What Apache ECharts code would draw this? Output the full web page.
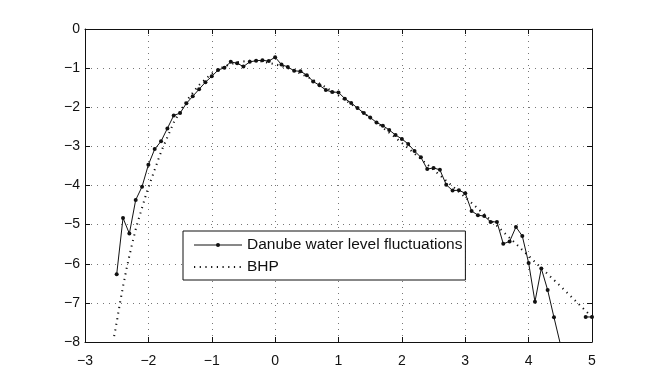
<!DOCTYPE html>
<html>
<head>
<meta charset="utf-8">
<script src="https://cdn.jsdelivr.net/npm/echarts@6/dist/echarts.min.js"></script>
<style>
  html, body { margin: 0; padding: 0; background: #fff; }
  #chart { width: 654px; height: 386px; }
</style>
</head>
<body>
<div id="chart"></div>
<script>
// Danube water level fluctuations (x step 0.1 from -2.5 to 5.0, null = not drawn)
var danubeX = [];
for (var i = 0; i <= 75; i++) danubeX.push(Math.round((-2.5 + i * 0.1) * 10) / 10);
var danubeY = [
  -6.27, -4.83, -5.23, -4.37, -4.03, -3.47, -3.07, -2.87, -2.54, -2.21,
  -2.15, -1.90, -1.72, -1.54, -1.36, -1.21, -1.05, -0.99, -0.84, -0.875,
  -0.96, -0.84, -0.81, -0.80, -0.82, -0.72, -0.91, -0.97, -1.07, -1.08,
  -1.18, -1.34, -1.44, -1.56, -1.61, -1.62, -1.78, -1.89, -2.02, -2.15,
  -2.26, -2.39, -2.47, -2.58, -2.71, -2.81, -2.94, -3.12, -3.28, -3.58,
  -3.55, -3.60, -3.98, -4.13, -4.12, -4.20, -4.65, -4.76, -4.78, -4.93,
  -4.93, -5.49, -5.43, -5.06, -5.29, -5.98, -6.97, -6.12, -6.67, -7.37,
  -8.05, null, null, null, -7.36, -7.36
];

// BHP curve
var bhpX = [-2.54, -2.5, -2.45, -2.4, -2.35, -2.3, -2.25, -2.2, -2.15, -2.1, -2.05, -2.0,
  -1.8, -1.6, -1.4, -1.2, -1.0, -0.8, -0.6, -0.4, -0.2, 0.0, 0.2, 0.4, 0.6, 0.8,
  1.0, 1.2, 1.4, 1.6, 1.8, 2.0, 2.5, 3.0, 3.5, 4.0, 4.5, 5.0];
var bhpY = [-7.85, -7.5, -7.02, -6.58, -6.17, -5.8, -5.45, -5.12, -4.84, -4.57, -4.3, -4.05,
  -3.14, -2.39, -1.84, -1.43, -1.14, -0.95, -0.85, -0.81, -0.83, -0.90, -1.0, -1.14, -1.30, -1.49,
  -1.70, -1.92, -2.15, -2.39, -2.65, -2.91, -3.6, -4.3, -5.03, -5.8, -6.57, -7.36];

var xTicks = { min: -3, max: 5, interval: 1 };
var yTicks = { min: -8, max: 0, interval: 1 };

function pairs(xs, ys) {
  return xs.map(function (x, i) { return [x, ys[i]]; });
}
function minus(v) {
  return String(v).replace('-', '\u2212');
}

var chart = echarts.init(document.getElementById('chart'), null, { renderer: 'canvas' });

var font = 'Liberation Sans, Arial, Helvetica, sans-serif';
var frame = { show: true, onZero: false, lineStyle: { color: '#111', width: 1 } };
var tickIn = { show: true, inside: true, length: 5, lineStyle: { color: '#111' } };

var option = {
  animation: false,
  backgroundColor: '#fff',
  grid: { left: 85, right: 62, top: 29, bottom: 44 },
  legend: {
    orient: 'vertical',
    left: 183,
    top: 231,
    padding: [6, 3, 5, 10],
    itemGap: 6,
    itemWidth: 48,
    itemHeight: 5,
    backgroundColor: '#fff',
    borderColor: '#111',
    borderWidth: 1,
    borderRadius: 0,
    lineStyle: { width: 1 },
    textStyle: { fontFamily: font, fontSize: 15.5, color: '#111' },
    data: [
      { name: 'Danube water level fluctuations' },
      { name: 'BHP', itemStyle: { color: 'rgba(0,0,0,0)', borderWidth: 0 }, lineStyle: { width: 2 } }
    ]
  },
  xAxis: [{
    type: 'value',
    min: xTicks.min, max: xTicks.max, interval: xTicks.interval,
    axisLine: frame,
    axisTick: tickIn,
    axisLabel: { color: '#111', fontFamily: font, fontSize: 14, margin: 12, formatter: minus },
    splitLine: { show: true, lineStyle: { color: '#777', type: [1, 5], width: 1 } }
  }, {
    type: 'value', position: 'top',
    min: xTicks.min, max: xTicks.max, interval: xTicks.interval,
    axisLine: frame,
    axisTick: tickIn,
    axisLabel: { show: false },
    splitLine: { show: false }
  }],
  yAxis: [{
    type: 'value',
    min: yTicks.min, max: yTicks.max, interval: yTicks.interval,
    axisLine: frame,
    axisTick: tickIn,
    axisLabel: { color: '#111', fontFamily: font, fontSize: 14, margin: 5, formatter: minus },
    splitLine: { show: true, lineStyle: { color: '#777', type: [1, 5], width: 1 } }
  }, {
    type: 'value', position: 'right',
    min: yTicks.min, max: yTicks.max, interval: yTicks.interval,
    axisLine: frame,
    axisTick: tickIn,
    axisLabel: { show: false },
    splitLine: { show: false }
  }],
  series: [{
    name: 'BHP',
    type: 'line',
    data: pairs(bhpX, bhpY),
    showSymbol: false,
    symbol: 'none',
    clip: true,
    z: 2,
    lineStyle: { color: '#111', width: 2, type: [1.2, 4.5] },
    itemStyle: { color: '#111' }
  }, {
    name: 'Danube water level fluctuations',
    type: 'line',
    data: pairs(danubeX, danubeY),
    symbol: 'circle',
    symbolSize: 4,
    connectNulls: false,
    clip: true,
    z: 3,
    lineStyle: { color: '#111', width: 1 },
    itemStyle: { color: '#111' }
  }]
};

chart.setOption(option);
</script>
</body>
</html>
